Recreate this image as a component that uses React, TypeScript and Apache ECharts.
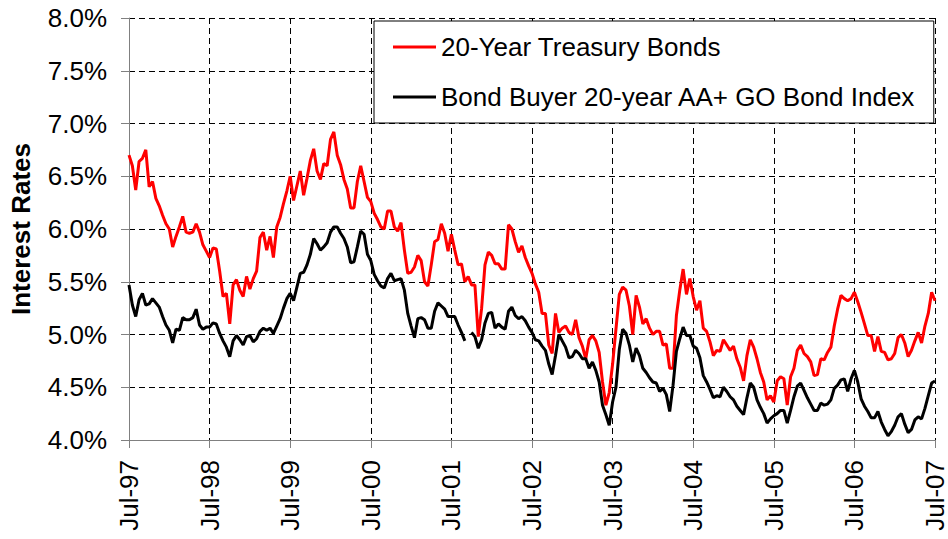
import React, { useEffect, useRef } from "react";
import * as echarts from "echarts";

// Semi-monthly observations, Jul-1997 .. Jul-2007 (index * 0.5 = months since Jul-97)
const STEP_MONTHS = 0.5;
const START_YEAR = 97;

const seriesNames = ["20-Year Treasury Bonds", "Bond Buyer 20-year AA+ GO Bond Index"];

const treasury: number[] = [
  6.70, 6.60, 6.37, 6.64, 6.67, 6.75, 6.40, 6.45, 6.29, 6.22,
  6.13, 6.05, 6.00, 5.83, 5.93, 6.02, 6.12, 5.97, 5.96, 5.97,
  6.05, 5.97, 5.85, 5.79, 5.73, 5.82, 5.81, 5.60, 5.36, 5.39,
  5.10, 5.47, 5.52, 5.42, 5.36, 5.55, 5.43, 5.53, 5.60, 5.92,
  5.97, 5.80, 5.93, 5.73, 6.02, 6.11, 6.24, 6.36, 6.50, 6.27,
  6.41, 6.55, 6.32, 6.48, 6.65, 6.76, 6.55, 6.47, 6.62, 6.60,
  6.85, 6.92, 6.70, 6.61, 6.47, 6.38, 6.20, 6.20, 6.45, 6.60,
  6.45, 6.30, 6.26, 6.15, 6.09, 6.02, 6.00, 6.17, 6.17, 6.02,
  5.98, 6.06, 5.80, 5.58, 5.59, 5.64, 5.75, 5.70, 5.50, 5.46,
  5.66, 5.88, 5.90, 6.05, 5.96, 5.79, 5.95, 5.80, 5.66, 5.67,
  5.50, 5.55, 5.47, 5.47, 4.98, 5.25, 5.66, 5.78, 5.75, 5.67,
  5.67, 5.62, 5.62, 6.04, 6.00, 5.88, 5.78, 5.84, 5.73, 5.65,
  5.58, 5.48, 5.40, 5.20, 5.20, 4.90, 4.82, 5.20, 5.02, 5.06,
  5.08, 5.02, 5.00, 5.14, 4.97, 4.89, 4.77, 4.95, 4.99, 4.94,
  4.83, 4.55, 4.33, 4.45, 4.72, 5.05, 5.38, 5.45, 5.42, 5.27,
  5.00, 5.37, 5.26, 5.10, 5.15, 5.06, 5.00, 5.03, 5.03, 4.90,
  4.91, 4.68, 4.68, 5.18, 5.42, 5.62, 5.38, 5.53, 5.36, 5.23,
  5.32, 5.06, 5.03, 4.93, 4.80, 4.85, 4.84, 4.95, 4.90, 4.85,
  4.89, 4.77, 4.69, 4.56, 4.80, 4.95, 4.88, 4.77, 4.64, 4.55,
  4.38, 4.42, 4.36, 4.56, 4.60, 4.58, 4.33, 4.60, 4.68, 4.85,
  4.90, 4.82, 4.79, 4.74, 4.61, 4.62, 4.77, 4.76, 4.83, 4.88,
  5.08, 5.24, 5.37, 5.34, 5.32, 5.34, 5.40, 5.31, 5.21, 5.10,
  4.99, 4.99, 4.84, 4.98, 4.84, 4.83, 4.76, 4.77, 4.82, 4.97,
  5.00, 4.92, 4.79, 4.85, 4.94, 5.02, 4.92, 5.08, 5.20, 5.40,
  5.32,
];

const bondBuyer: (number | null)[] = [
  5.47, 5.28, 5.17, 5.33, 5.39, 5.28, 5.29, 5.34, 5.30, 5.26,
  5.17, 5.09, 5.04, 4.92, 5.05, 5.04, 5.16, 5.14, 5.14, 5.16,
  5.24, 5.09, 5.05, 5.07, 5.07, 5.11, 5.10, 5.01, 4.94, 4.88,
  4.79, 4.94, 4.99, 4.95, 4.90, 4.98, 4.99, 4.93, 4.96, 5.03,
  5.06, 5.04, 5.06, 5.01, 5.08, 5.15, 5.25, 5.34, 5.39, 5.32,
  5.45, 5.58, 5.59, 5.66, 5.76, 5.91, 5.86, 5.80, 5.83, 5.87,
  5.97, 6.02, 6.02, 5.96, 5.91, 5.83, 5.68, 5.69, 5.83, 5.98,
  5.95, 5.76, 5.70, 5.57, 5.51, 5.46, 5.44, 5.53, 5.58, 5.51,
  5.52, 5.53, 5.42, 5.20, 5.08, 4.97, 5.15, 5.16, 5.14, 5.06,
  5.06, 5.22, 5.30, 5.27, 5.24, 5.17, 5.17, 5.17, 5.09, 5.02,
  4.94, null, 5.02, 4.98, 4.87, 4.95, 5.11, 5.20, 5.21, 5.06,
  5.10, 5.07, 5.05, 5.22, 5.26, 5.18, 5.15, 5.17, 5.13, 5.07,
  5.02, 4.95, 4.94, 4.89, 4.85, 4.72, 4.62, 4.80, 5.00, 4.94,
  4.88, 4.78, 4.79, 4.85, 4.82, 4.77, 4.77, 4.68, 4.74, 4.66,
  4.55, 4.33, 4.24, 4.14, 4.36, 4.50, 4.86, 5.05, 5.01, 4.90,
  4.74, 4.87, 4.80, 4.68, 4.64, 4.59, 4.55, 4.54, 4.46, 4.49,
  4.43, 4.27, 4.52, 4.84, 4.96, 5.07, 4.99, 4.99, 4.89, 4.87,
  4.78, 4.61, 4.55, 4.48, 4.40, 4.42, 4.41, 4.50, 4.46, 4.41,
  4.38, 4.32, 4.28, 4.24, 4.40, 4.54, 4.50, 4.38, 4.31, 4.25,
  4.16, 4.20, 4.23, 4.25, 4.28, 4.28, 4.16, 4.28, 4.41, 4.51,
  4.54, 4.47, 4.40, 4.34, 4.28, 4.28, 4.35, 4.33, 4.34, 4.38,
  4.49, 4.52, 4.57, 4.58, 4.46, 4.58, 4.66, 4.55, 4.39, 4.32,
  4.27, 4.21, 4.21, 4.27, 4.17, 4.10, 4.04, 4.08, 4.14, 4.22,
  4.25, 4.15, 4.07, 4.10, 4.19, 4.22, 4.20, 4.30, 4.42, 4.54,
  4.56,
];

const Y_MIN = 4.0;
const Y_MAX = 8.0;
const Y_STEP = 0.5;
const X_MIN = 0;
const X_MAX = 120;
const X_STEP = 12;

const FONT = "'Liberation Sans', Arial, Helvetica, sans-serif";

function toPairs(values: (number | null)[]) {
  return values.map((v, i) => [i * STEP_MONTHS, v]);
}

function monthLabel(m: number) {
  const yy = (START_YEAR + Math.round(m / 12)) % 100;
  return "Jul-" + String(yy).padStart(2, "0");
}

export default function App() {
  const ref = useRef<HTMLDivElement>(null);

  useEffect(() => {
    if (!ref.current) return;
    const chart = echarts.init(ref.current, undefined, { renderer: "svg" });
    const dashed = { color: "#000", width: 1, type: [6, 4] as any };
    chart.setOption({
      animation: false,
      backgroundColor: "#fff",
      textStyle: { fontFamily: FONT },
      grid: { left: 128, right: 12, top: 18, bottom: 99, containLabel: false },
      legend: {
        orient: "vertical",
        left: 374,
        top: 21,
        padding: [13, 18, 13, 19],
        icon: "rect",
        itemWidth: 43,
        itemHeight: 3,
        itemGap: 24,
        backgroundColor: "#fff",
        borderColor: "#000",
        borderWidth: 1,
        textStyle: { fontSize: 26, color: "#000", fontFamily: FONT, lineHeight: 26 },
        data: seriesNames,
      },
      xAxis: {
        type: "value",
        min: X_MIN,
        max: X_MAX,
        interval: X_STEP,
        axisLine: { show: true, lineStyle: { color: "#808080", width: 1 } },
        axisTick: { show: true, length: 8, inside: false, lineStyle: { color: "#808080" } },
        axisLabel: {
          rotate: 90,
          margin: 20,
          fontSize: 26,
          color: "#000",
          fontFamily: FONT,
          formatter: (v: number) => monthLabel(v),
        },
        splitLine: { show: true, lineStyle: dashed },
      },
      yAxis: {
        type: "value",
        min: Y_MIN,
        max: Y_MAX,
        interval: Y_STEP,
        name: "Interest Rates",
        nameLocation: "middle",
        nameGap: 95,
        nameTextStyle: { fontSize: 26, fontWeight: "bold", color: "#000", fontFamily: FONT },
        axisLine: { show: true, lineStyle: { color: "#808080", width: 1 } },
        axisTick: { show: true, length: 8, inside: false, lineStyle: { color: "#808080" } },
        axisLabel: {
          margin: 22,
          fontSize: 26,
          color: "#000",
          fontFamily: FONT,
          formatter: (v: number) => v.toFixed(1) + "%",
        },
        splitLine: { show: true, lineStyle: dashed },
      },
      series: [
        {
          name: seriesNames[0],
          type: "line",
          data: toPairs(treasury),
          showSymbol: false,
          symbol: "none",
          lineStyle: { color: "#ff0000", width: 3 },
          itemStyle: { color: "#ff0000" },
          z: 3,
        },
        {
          name: seriesNames[1],
          type: "line",
          data: toPairs(bondBuyer),
          showSymbol: false,
          symbol: "none",
          connectNulls: false,
          lineStyle: { color: "#000", width: 3 },
          itemStyle: { color: "#000" },
          z: 4,
        },
      ],
    });
    return () => chart.dispose();
  }, []);

  return (
    <div
      ref={ref}
      style={{ position: "fixed", left: 0, top: 0, width: 948, height: 539, background: "#fff" }}
    />
  );
}
